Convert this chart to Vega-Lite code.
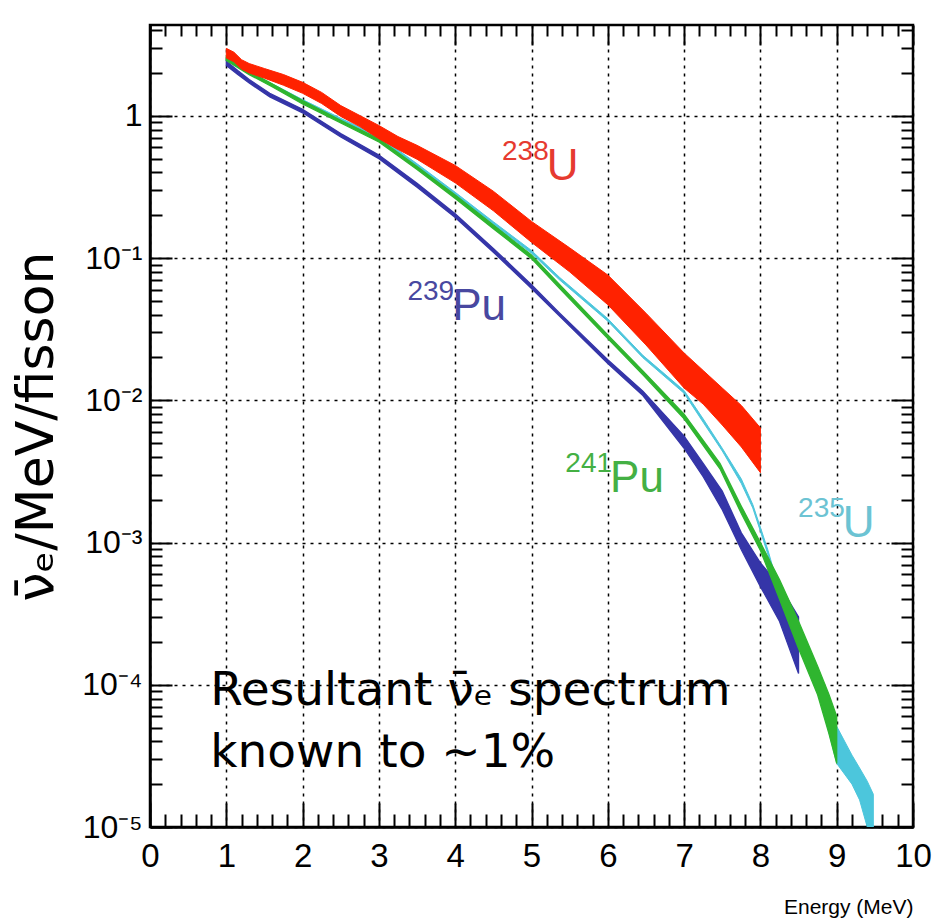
{
  "$schema": "https://vega.github.io/schema/vega-lite/v6.json",
  "width": 763,
  "height": 802,
  "autosize": {"type": "none"},
  "padding": {"left": 150, "top": 25, "right": 21, "bottom": 97},
  "background": "white",
  "config": {
    "view": {"stroke": "black", "strokeWidth": 2.5},
    "font": "Liberation Sans"
  },
  "datasets": {
    "curves": [
      {"iso": "235U", "E": 1.0, "lo": 2.45, "hi": 2.55},
      {"iso": "235U", "E": 1.3, "lo": 1.97, "hi": 2.04},
      {"iso": "235U", "E": 1.6, "lo": 1.62, "hi": 1.68},
      {"iso": "235U", "E": 2.0, "lo": 1.25, "hi": 1.30},
      {"iso": "235U", "E": 2.5, "lo": 0.92, "hi": 0.96},
      {"iso": "235U", "E": 3.0, "lo": 0.69, "hi": 0.72},
      {"iso": "235U", "E": 3.5, "lo": 0.44, "hi": 0.46},
      {"iso": "235U", "E": 4.0, "lo": 0.278, "hi": 0.29},
      {"iso": "235U", "E": 4.5, "lo": 0.172, "hi": 0.18},
      {"iso": "235U", "E": 5.0, "lo": 0.108, "hi": 0.113},
      {"iso": "235U", "E": 5.37, "lo": 0.070, "hi": 0.073},
      {"iso": "235U", "E": 6.0, "lo": 0.036, "hi": 0.0375},
      {"iso": "235U", "E": 6.46, "lo": 0.0199, "hi": 0.0207},
      {"iso": "235U", "E": 7.0, "lo": 0.0112, "hi": 0.0117},
      {"iso": "235U", "E": 7.25, "lo": 0.0070, "hi": 0.0074},
      {"iso": "235U", "E": 7.5, "lo": 0.0044, "hi": 0.0046},
      {"iso": "235U", "E": 7.75, "lo": 0.0026, "hi": 0.0028},
      {"iso": "235U", "E": 7.9, "lo": 0.00175, "hi": 0.00185},
      {"iso": "235U", "E": 8.0, "lo": 0.0012, "hi": 0.00128},
      {"iso": "235U", "E": 8.1, "lo": 0.00082, "hi": 0.00088},
      {"iso": "235U", "E": 8.25, "lo": 0.00042, "hi": 0.00046},
      {"iso": "235U", "E": 8.5, "lo": 0.00020, "hi": 0.00024},
      {"iso": "235U", "E": 8.75, "lo": 0.000095, "hi": 0.00012},
      {"iso": "235U", "E": 9.0, "lo": 0.000028, "hi": 0.000051},
      {"iso": "235U", "E": 9.2, "lo": 0.000020, "hi": 0.000032},
      {"iso": "235U", "E": 9.3, "lo": 0.0000155, "hi": 0.000026},
      {"iso": "235U", "E": 9.4, "lo": 0.0000100, "hi": 0.000021},
      {"iso": "235U", "E": 9.48, "lo": 0.000005, "hi": 0.000017},

      {"iso": "239Pu", "E": 1.0, "lo": 2.26, "hi": 2.42},
      {"iso": "239Pu", "E": 1.15, "lo": 1.95, "hi": 2.08},
      {"iso": "239Pu", "E": 1.3, "lo": 1.70, "hi": 1.80},
      {"iso": "239Pu", "E": 1.57, "lo": 1.36, "hi": 1.44},
      {"iso": "239Pu", "E": 2.0, "lo": 1.05, "hi": 1.11},
      {"iso": "239Pu", "E": 2.5, "lo": 0.71, "hi": 0.75},
      {"iso": "239Pu", "E": 3.0, "lo": 0.50, "hi": 0.53},
      {"iso": "239Pu", "E": 3.5, "lo": 0.315, "hi": 0.335},
      {"iso": "239Pu", "E": 4.0, "lo": 0.193, "hi": 0.205},
      {"iso": "239Pu", "E": 4.5, "lo": 0.110, "hi": 0.117},
      {"iso": "239Pu", "E": 5.0, "lo": 0.061, "hi": 0.065},
      {"iso": "239Pu", "E": 5.37, "lo": 0.039, "hi": 0.041},
      {"iso": "239Pu", "E": 6.0, "lo": 0.0181, "hi": 0.0193},
      {"iso": "239Pu", "E": 6.46, "lo": 0.0108, "hi": 0.0116},
      {"iso": "239Pu", "E": 7.0, "lo": 0.0046, "hi": 0.0056},
      {"iso": "239Pu", "E": 7.25, "lo": 0.0029, "hi": 0.0036},
      {"iso": "239Pu", "E": 7.5, "lo": 0.0017, "hi": 0.0023},
      {"iso": "239Pu", "E": 7.75, "lo": 0.00089, "hi": 0.00117},
      {"iso": "239Pu", "E": 8.0, "lo": 0.00049, "hi": 0.00072},
      {"iso": "239Pu", "E": 8.25, "lo": 0.00028, "hi": 0.00050},
      {"iso": "239Pu", "E": 8.5, "lo": 0.00012, "hi": 0.00030},

      {"iso": "241Pu", "E": 1.0, "lo": 2.45, "hi": 2.62},
      {"iso": "241Pu", "E": 1.3, "lo": 1.95, "hi": 2.05},
      {"iso": "241Pu", "E": 1.6, "lo": 1.60, "hi": 1.68},
      {"iso": "241Pu", "E": 2.0, "lo": 1.21, "hi": 1.28},
      {"iso": "241Pu", "E": 2.5, "lo": 0.89, "hi": 0.93},
      {"iso": "241Pu", "E": 3.0, "lo": 0.655, "hi": 0.69},
      {"iso": "241Pu", "E": 3.5, "lo": 0.42, "hi": 0.44},
      {"iso": "241Pu", "E": 4.0, "lo": 0.262, "hi": 0.278},
      {"iso": "241Pu", "E": 4.5, "lo": 0.161, "hi": 0.171},
      {"iso": "241Pu", "E": 5.0, "lo": 0.099, "hi": 0.105},
      {"iso": "241Pu", "E": 5.37, "lo": 0.061, "hi": 0.065},
      {"iso": "241Pu", "E": 6.0, "lo": 0.0272, "hi": 0.0288},
      {"iso": "241Pu", "E": 6.46, "lo": 0.0151, "hi": 0.0161},
      {"iso": "241Pu", "E": 7.0, "lo": 0.0074, "hi": 0.0080},
      {"iso": "241Pu", "E": 7.47, "lo": 0.0033, "hi": 0.0036},
      {"iso": "241Pu", "E": 7.75, "lo": 0.0016, "hi": 0.0018},
      {"iso": "241Pu", "E": 8.0, "lo": 0.00088, "hi": 0.00100},
      {"iso": "241Pu", "E": 8.25, "lo": 0.00040, "hi": 0.00055},
      {"iso": "241Pu", "E": 8.5, "lo": 0.00018, "hi": 0.00028},
      {"iso": "241Pu", "E": 8.75, "lo": 0.000085, "hi": 0.000135},
      {"iso": "241Pu", "E": 8.9, "lo": 0.000045, "hi": 0.000085},
      {"iso": "241Pu", "E": 9.0, "lo": 0.000028, "hi": 0.000060},

      {"iso": "238U", "E": 1.0, "lo": 2.55, "hi": 2.98},
      {"iso": "238U", "E": 1.1, "lo": 2.40, "hi": 2.80},
      {"iso": "238U", "E": 1.2, "lo": 2.13, "hi": 2.48},
      {"iso": "238U", "E": 1.3, "lo": 2.00, "hi": 2.33},
      {"iso": "238U", "E": 1.5, "lo": 1.84, "hi": 2.15},
      {"iso": "238U", "E": 1.75, "lo": 1.64, "hi": 1.95},
      {"iso": "238U", "E": 2.0, "lo": 1.44, "hi": 1.72},
      {"iso": "238U", "E": 2.25, "lo": 1.22, "hi": 1.46},
      {"iso": "238U", "E": 2.5, "lo": 0.99, "hi": 1.18},
      {"iso": "238U", "E": 2.75, "lo": 0.84, "hi": 1.005},
      {"iso": "238U", "E": 3.0, "lo": 0.69, "hi": 0.855},
      {"iso": "238U", "E": 3.25, "lo": 0.58, "hi": 0.715},
      {"iso": "238U", "E": 3.5, "lo": 0.495, "hi": 0.62},
      {"iso": "238U", "E": 4.0, "lo": 0.338, "hi": 0.448},
      {"iso": "238U", "E": 4.5, "lo": 0.215, "hi": 0.295},
      {"iso": "238U", "E": 5.0, "lo": 0.129, "hi": 0.181},
      {"iso": "238U", "E": 5.5, "lo": 0.080, "hi": 0.118},
      {"iso": "238U", "E": 6.0, "lo": 0.047, "hi": 0.076},
      {"iso": "238U", "E": 6.5, "lo": 0.0245, "hi": 0.041},
      {"iso": "238U", "E": 7.0, "lo": 0.0122, "hi": 0.0215},
      {"iso": "238U", "E": 7.25, "lo": 0.0094, "hi": 0.0162},
      {"iso": "238U", "E": 7.5, "lo": 0.0067, "hi": 0.0122},
      {"iso": "238U", "E": 7.75, "lo": 0.0047, "hi": 0.0092},
      {"iso": "238U", "E": 8.0, "lo": 0.0031, "hi": 0.0064}
    ],
    "labels": [
      {"iso": "238U", "E": 5.20, "v": 0.353, "num": "238", "sym": "U"},
      {"iso": "239Pu", "E": 3.96, "v": 0.0367, "num": "239", "sym": "Pu"},
      {"iso": "241Pu", "E": 6.03, "v": 0.00227, "num": "241", "sym": "Pu"},
      {"iso": "235U", "E": 9.08, "v": 0.00109, "num": "235", "sym": "U"}
    ],
    "note": [
      {"E": 0.79, "v": 0.000072, "line1": "Resultant ν̄ₑ spectrum", "line2": "known to ~1%"}
    ]
  },
  "resolve": {"axis": {"x": "independent", "y": "independent"}},
  "layer": [
    {
      "data": {"name": "curves"},
      "transform": [{"filter": "datum.iso === '235U'"}],
      "mark": {"type": "area", "fill": "#4cc6dc", "stroke": "#4cc6dc", "strokeWidth": 1.0, "clip": true},
      "encoding": {
        "x": {
          "field": "E", "type": "quantitative",
          "scale": {"domain": [0, 10], "nice": false, "zero": false},
          "axis": {
            "orient": "bottom",
            "title": "Energy (MeV)",
            "titleAnchor": "end",
            "titleFont": "Liberation Sans",
            "titleFontSize": 21,
            "titleFontWeight": "normal",
            "titleColor": "black",
            "titlePadding": 12,
            "values": [0,0.2,0.4,0.6,0.8,1,1.2,1.4,1.6,1.8,2,2.2,2.4,2.6,2.8,3,3.2,3.4,3.6,3.8,4,4.2,4.4,4.6,4.8,5,5.2,5.4,5.6,5.8,6,6.2,6.4,6.6,6.8,7,7.2,7.4,7.6,7.8,8,8.2,8.4,8.6,8.8,9,9.2,9.4,9.6,9.8,10],
            "labelExpr": "abs(datum.value - round(datum.value)) < 0.01 ? '' + round(datum.value) : ''",
            "labelFont": "Liberation Sans",
            "labelFontSize": 33,
            "labelColor": "black",
            "labelPadding": 37,
            "labelFlush": false,
            "labelOverlap": false,
            "labelBound": false,
            "labelSeparation": 0,
            "tickColor": "black",
            "tickWidth": 2,
            "tickSize": {"condition": {"test": "abs(datum.value - round(datum.value)) < 0.01", "value": -24}, "value": -13},
            "domain": true,
            "domainColor": "black",
            "domainWidth": 2.5,
            "grid": true,
            "gridColor": "black",
            "gridWidth": 1.5,
            "gridDash": [3, 5],
            "gridOpacity": {"condition": {"test": "abs(datum.value - round(datum.value)) < 0.01", "value": 1}, "value": 0}
          }
        },
        "y": {
          "field": "lo", "type": "quantitative",
          "scale": {"type": "log", "domain": [0.00001, 4.35], "nice": false},
          "axis": {
            "orient": "left",
            "title": "ν̄ₑ/MeV/fisson",
            "titleFont": "DejaVu Sans",
            "titleFontSize": 52,
            "titleFontWeight": "normal",
            "titleColor": "black",
            "titlePadding": 18,
            "values": [0.00001,0.00002,0.00003,0.00004,0.00005,0.00006,0.00007,0.00008,0.00009,0.0001,0.0002,0.0003,0.0004,0.0005,0.0006,0.0007,0.0008,0.0009,0.001,0.002,0.003,0.004,0.005,0.006,0.007,0.008,0.009,0.01,0.02,0.03,0.04,0.05,0.06,0.07,0.08,0.09,0.1,0.2,0.3,0.4,0.5,0.6,0.7,0.8,0.9,1,2,3,4],
            "labelExpr": "abs(log(datum.value)/LN10 - round(log(datum.value)/LN10)) > 0.01 ? '' : (round(log(datum.value)/LN10) == 0 ? '1\u2003\u2009' : '10' + ['', '⁻¹', '⁻²', '⁻³', '⁻⁴', '⁻⁵'][-round(log(datum.value)/LN10)])",
            "labelFont": "Liberation Sans",
            "labelFontSize": 32,
            "labelColor": "black",
            "labelPadding": 30,
            "labelFlush": false,
            "labelOverlap": false,
            "labelBound": false,
            "tickColor": "black",
            "tickWidth": 2,
            "tickSize": {"condition": {"test": "abs(log(datum.value)/LN10 - round(log(datum.value)/LN10)) < 0.01", "value": -22}, "value": -12},
            "domain": true,
            "domainColor": "black",
            "domainWidth": 2.5,
            "grid": true,
            "gridColor": "black",
            "gridWidth": 1.5,
            "gridDash": [3, 5],
            "gridOpacity": {"condition": {"test": "abs(log(datum.value)/LN10 - round(log(datum.value)/LN10)) < 0.01", "value": 1}, "value": 0}
          }
        },
        "y2": {"field": "hi"}
      }
    },
    {
      "data": {"name": "curves"},
      "transform": [{"filter": "datum.iso === '239Pu'"}],
      "mark": {"type": "area", "fill": "#3535a8", "stroke": "#3535a8", "strokeWidth": 1.3, "clip": true},
      "encoding": {
        "x": {"field": "E", "type": "quantitative", "axis": null},
        "y": {"field": "lo", "type": "quantitative", "axis": null},
        "y2": {"field": "hi"}
      }
    },
    {
      "data": {"name": "curves"},
      "transform": [{"filter": "datum.iso === '241Pu'"}],
      "mark": {"type": "area", "fill": "#2fb52f", "stroke": "#2fb52f", "strokeWidth": 1.3, "clip": true},
      "encoding": {
        "x": {"field": "E", "type": "quantitative", "axis": null},
        "y": {"field": "lo", "type": "quantitative", "axis": null},
        "y2": {"field": "hi"}
      }
    },
    {
      "data": {"name": "curves"},
      "transform": [{"filter": "datum.iso === '238U'"}],
      "mark": {"type": "area", "fill": "#ff2200", "stroke": "#ff2200", "strokeWidth": 1, "clip": true},
      "encoding": {
        "x": {"field": "E", "type": "quantitative", "axis": null},
        "y": {"field": "lo", "type": "quantitative", "axis": null},
        "y2": {"field": "hi"}
      }
    },
    {
      "data": {"name": "labels"},
      "mark": {"type": "text", "align": "left", "baseline": "alphabetic", "font": "Liberation Sans", "fontSize": 44},
      "encoding": {
        "x": {"field": "E", "type": "quantitative", "axis": null},
        "y": {"field": "v", "type": "quantitative", "axis": null},
        "text": {"field": "sym"},
        "color": {"field": "iso", "type": "nominal", "legend": null,
          "scale": {"domain": ["238U", "239Pu", "241Pu", "235U"], "range": ["#e63a30", "#4848a0", "#44b044", "#6cc3d3"]}}
      }
    },
    {
      "data": {"name": "labels"},
      "mark": {"type": "text", "align": "right", "baseline": "alphabetic", "font": "Liberation Sans", "fontSize": 28, "dx": 2, "dy": -20},
      "encoding": {
        "x": {"field": "E", "type": "quantitative", "axis": null},
        "y": {"field": "v", "type": "quantitative", "axis": null},
        "text": {"field": "num"},
        "color": {"field": "iso", "type": "nominal", "legend": null}
      }
    },
    {
      "data": {"name": "note"},
      "mark": {"type": "text", "align": "left", "baseline": "alphabetic", "font": "DejaVu Sans", "fontSize": 47, "color": "black"},
      "encoding": {
        "x": {"field": "E", "type": "quantitative", "axis": null},
        "y": {"field": "v", "type": "quantitative", "axis": null},
        "text": {"field": "line1"}
      }
    },
    {
      "data": {"name": "note"},
      "mark": {"type": "text", "align": "left", "baseline": "alphabetic", "font": "DejaVu Sans", "fontSize": 47, "color": "black", "dy": 62},
      "encoding": {
        "x": {"field": "E", "type": "quantitative", "axis": null},
        "y": {"field": "v", "type": "quantitative", "axis": null},
        "text": {"field": "line2"}
      }
    },
    {
      "data": {"name": "curves"},
      "mark": {"type": "point", "opacity": 0},
      "encoding": {
        "x": {
          "field": "E", "type": "quantitative",
          "axis": {
            "orient": "top",
            "title": null,
            "labels": false,
            "grid": false,
            "domain": false,
            "values": [0,0.2,0.4,0.6,0.8,1,1.2,1.4,1.6,1.8,2,2.2,2.4,2.6,2.8,3,3.2,3.4,3.6,3.8,4,4.2,4.4,4.6,4.8,5,5.2,5.4,5.6,5.8,6,6.2,6.4,6.6,6.8,7,7.2,7.4,7.6,7.8,8,8.2,8.4,8.6,8.8,9,9.2,9.4,9.6,9.8,10],
            "tickColor": "black",
            "tickWidth": 2,
            "tickSize": {"condition": {"test": "abs(datum.value - round(datum.value)) < 0.01", "value": -20}, "value": -11}
          }
        },
        "y": {
          "field": "hi", "type": "quantitative",
          "axis": {
            "orient": "right",
            "title": null,
            "labels": false,
            "grid": false,
            "domain": false,
            "values": [0.00001,0.00002,0.00003,0.00004,0.00005,0.00006,0.00007,0.00008,0.00009,0.0001,0.0002,0.0003,0.0004,0.0005,0.0006,0.0007,0.0008,0.0009,0.001,0.002,0.003,0.004,0.005,0.006,0.007,0.008,0.009,0.01,0.02,0.03,0.04,0.05,0.06,0.07,0.08,0.09,0.1,0.2,0.3,0.4,0.5,0.6,0.7,0.8,0.9,1,2,3,4],
            "tickColor": "black",
            "tickWidth": 2,
            "tickSize": {"condition": {"test": "abs(log(datum.value)/LN10 - round(log(datum.value)/LN10)) < 0.01", "value": -22}, "value": -12}
          }
        }
      }
    }
  ]
}
